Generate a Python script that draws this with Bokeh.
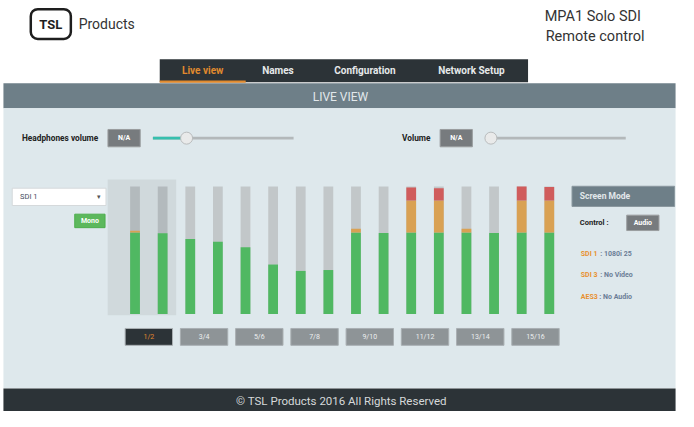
from bokeh.plotting import figure
from bokeh.models import Range1d, ColumnDataSource, BoxAnnotation
from bokeh.core.properties import value
from bokeh.embed import file_html
from bokeh.resources import INLINE

# ---------------- data ----------------
channels = list(range(1, 17))
levels = [65.3, 63.4, 58.9, 56.6, 52.4, 38.8, 33.8, 34.5,
          66.8, 63.6, 99.2, 98.7, 66.8, 63.6, 100.0, 99.6]
selected_pair = 1
pair_labels = ["1/2", "3/4", "5/6", "7/8", "9/10", "11/12", "13/14", "15/16"]
green_max = 64.0
orange_max = 89.0
full_scale = 100.0
nav_items = ["Live view", "Names", "Configuration", "Network Setup"]
headphones_volume = 22
main_volume = 0
status_labels = ["SDI 1", "SDI 3", "AES3"]
status_values = [": 1080i 25", ": No Video", ": No Audio"]

FONT = "Roboto"
W, H = 678, 411
REF_W, REF_H = 694, 427

p = figure(width=W, height=H, output_backend="svg", toolbar_location=None,
           x_range=Range1d(0, REF_W), y_range=Range1d(REF_H, 0),
           x_axis_location=None, y_axis_location=None, min_border=0)
p.grid.visible = False
p.outline_line_color = None
p.background_fill_color = "white"
p.border_fill_color = "white"


def txt(x, y, t, size, color, align="left", bold=False):
    p.text(x=[x], y=[y], text=[t], text_font=value(FONT),
           text_font_size=f"{size}px", text_color=color, text_align=align,
           text_baseline="middle", text_font_style="bold" if bold else "normal")


def box(l, r, t, b, color, line=None):
    p.quad(left=[l], right=[r], top=[t], bottom=[b], fill_color=color,
           line_color=line)


# ---------------- header ----------------
p.add_layout(BoxAnnotation(left=31, right=72, top=9, bottom=40, fill_alpha=0,
                           line_color="#1e1e1e", line_alpha=1.0, line_width=2.5,
                           border_radius=7))
txt(51.5, 25, "TSL", 13, "#1e1e1e", "center", True)
txt(80, 24, "Products", 14, "#333333")
txt(557, 17, "MPA1 Solo SDI", 14.5, "#333333")
txt(558, 37, "Remote control", 14.5, "#333333")

# nav tab
box(163, 540, 61, 85, "#2c3337")
box(163, 251, 83, 85.5, "#e08a2e")
nav_x = [207, 284, 373, 482]
for i, (nx, name) in enumerate(zip(nav_x, nav_items)):
    txt(nx, 72.5, name, 10, "#e08a2e" if i == 0 else "#e6e9ea", "center", True)

# section header band + panel + footer
box(3, 691, 86, 112, "#6e7f88")
txt(348, 100, "LIVE VIEW", 12, "#e2e8eb", "center")
box(3, 691, 112, 403, "#dee8ec")
box(3, 691, 403, 427, "#2c3337")
txt(349, 416, "\u00a9 TSL Products 2016 All Rights Reserved", 11.5, "#d6d9da", "center")

# ---------------- volume rows ----------------
def slider(label, lx, bx, t0, t1, vol, fill):
    txt(lx, 143, label, 8.3, "#222222", "left", True)
    box(bx, bx + 33, 134, 152, "#777b7e", "#9a9d9f")
    txt(bx + 16.5, 143, "N/A", 7, "#ffffff", "center", True)
    box(t0, t1, 141.5, 144.5, "#b3b8ba")
    kx = t0 + 5 + vol / 100 * (t1 - t0 - 10)
    if fill:
        box(t0, kx, 141.5, 144.5, "#36bfae")
    p.scatter(x=[kx], y=[143], size=12, marker="circle", fill_color="#e9eaea",
              line_color="#b9bcbd", line_width=1)


slider("Headphones volume", 22, 110, 156, 300, headphones_volume, True)
slider("Volume", 411, 450, 497, 640, main_volume, False)

# ---------------- input selector ----------------
box(12, 108, 195, 213, "#ffffff", "#d5d9db")
txt(20, 204, "SDI 1", 7.5, "#444c5e")
txt(101, 204, "\u25be", 7, "#555555", "center")
box(76, 107, 222, 236, "#5cb85c", "#4cae4c")
txt(91.5, 229, "Mono", 7, "#ffffff", "center", True)

# ---------------- meters ----------------
# reference-pixel geometry of the meter area (layout constants)
m_x0, m_dx = 137.7, 28.27          # centre of channel 1 and spacing
m_bot, m_top = 325.7, 193.3        # level 0 and full scale
px_per_lvl = (m_bot - m_top) / full_scale


def idx_at(px):
    return 1 + (px - m_x0) / m_dx


def lvl_at(py):
    return (m_bot - py) / px_per_lvl


p.extra_x_ranges = {"m": Range1d(idx_at(0), idx_at(REF_W))}
p.extra_y_ranges = {"m": Range1d(lvl_at(REF_H), lvl_at(0))}

sel_lo = 2 * selected_pair - 1
p.quad(left=[sel_lo - 0.5 - 0.49], right=[sel_lo + 1 + 0.49], top=[105.5],
       bottom=[-1.0], fill_color="#d0d9dc", line_color=None,
       x_range_name="m", y_range_name="m")

bar_w = 10 / m_dx
bg_col = ["#b3babd" if c in (sel_lo, sel_lo + 1) else "#c2c7c9" for c in channels]
p.vbar(x=channels, width=bar_w, bottom=0, top=full_scale, fill_color=bg_col,
       line_color=None, x_range_name="m", y_range_name="m")

g_top = [min(v, green_max) for v in levels]
o_top = [min(v, orange_max) for v in levels]
r_top = [v for v in levels]
src = ColumnDataSource(dict(x=channels, g=g_top, zero=[0] * 16))
p.vbar(x="x", width=bar_w, bottom="zero", top="g", source=src,
       fill_color="#50b862", line_color=None, x_range_name="m", y_range_name="m")
oc = [i for i, v in enumerate(levels) if v > green_max]
p.vbar(x=[channels[i] for i in oc], width=bar_w, bottom=green_max,
       top=[o_top[i] for i in oc], fill_color="#d9a153", line_color=None,
       x_range_name="m", y_range_name="m")
rc = [i for i, v in enumerate(levels) if v > orange_max]
p.vbar(x=[channels[i] for i in rc], width=bar_w, bottom=orange_max,
       top=[r_top[i] for i in rc], fill_color="#d05c5c", line_color=None,
       x_range_name="m", y_range_name="m")

# pair buttons
pair_x = [2 * i + 1.5 for i in range(len(pair_labels))]
btn_w = 48.5 / m_dx
btn_col = ["#2c3337" if i + 1 == selected_pair else "#8e9497" for i in range(8)]
p.rect(x=pair_x, y=[lvl_at(349.5)] * 8, width=btn_w, height=17.5 / px_per_lvl,
       fill_color=btn_col, line_color="#a9afb2", x_range_name="m", y_range_name="m")
p.text(x=pair_x, y=[lvl_at(349.5)] * 8, text=pair_labels,
       text_color=["#e08a2e" if i + 1 == selected_pair else "#eceeef" for i in range(8)],
       text_font=value(FONT), text_font_size="7px", text_align="center",
       text_baseline="middle", x_range_name="m", y_range_name="m")

# ---------------- screen mode panel ----------------
box(585, 690, 193, 214, "#6e7f88", "#8a989f")
txt(593, 203.5, "Screen Mode", 8.5, "#e2e8eb", "left", True)
txt(593, 231, "Control :", 7.5, "#222222", "left", True)
box(641, 674, 223, 239, "#777b7e", "#9a9d9f")
txt(657.5, 231, "Audio", 7, "#ffffff", "center", True)
for i, (lab, val) in enumerate(zip(status_labels, status_values)):
    y = 263 + i * 22.5
    txt(594, y, lab, 7, "#e8902f", "left", True)
    txt(594 + (20 if lab.startswith("SDI") else 19), y, val, 7, "#6a7d96", "left", True)

open("out.html", "w").write(file_html(p, INLINE))
